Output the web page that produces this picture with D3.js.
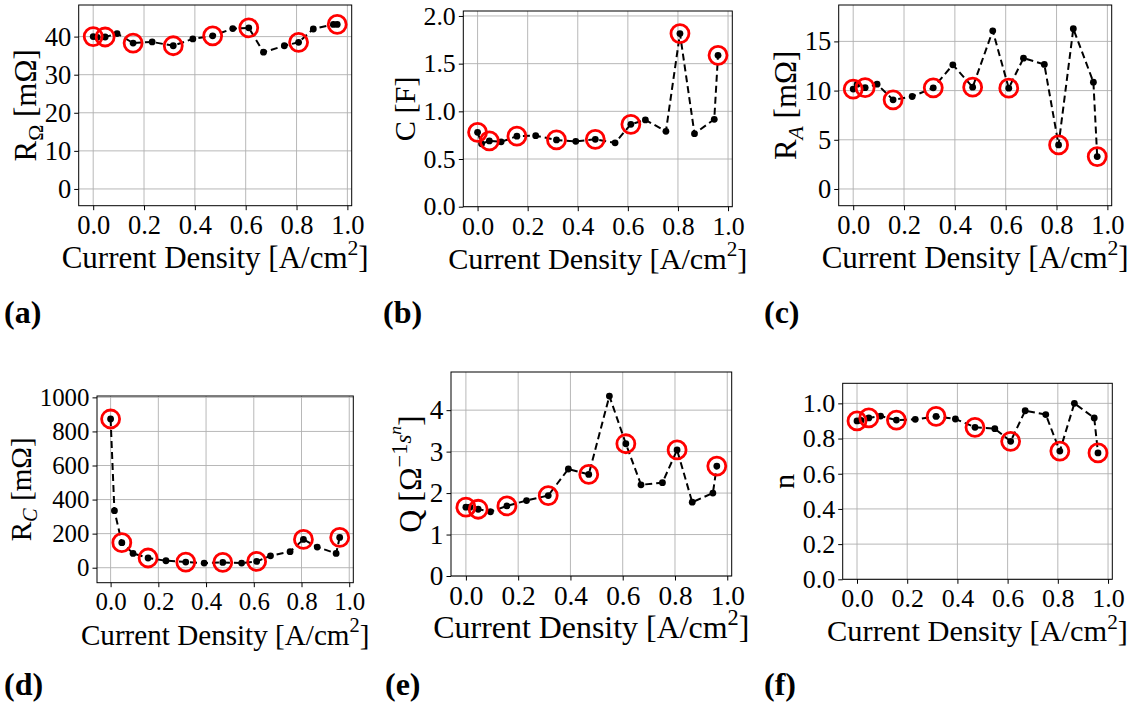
<!DOCTYPE html>
<html>
<head>
<meta charset="utf-8">
<script src="https://cdn.jsdelivr.net/npm/d3@7"></script>
<style>
  html, body { margin: 0; padding: 0; background: #fff; }
  svg { display: block; }
</style>
</head>
<body>
<svg id="fig" width="1131" height="708"></svg>
<script>
// Current density sweep [A/cm^2]
const currentDensity = [0.0, 0.016, 0.047, 0.094, 0.157, 0.232, 0.315, 0.392, 0.47, 0.549, 0.612, 0.67, 0.752, 0.808, 0.866, 0.945, 0.96];
// Operating points marked with red rings
const markedIdx = [0, 2, 4, 6, 8, 10, 13, 16];

// Fitted equivalent-circuit parameters
const rOhmic = [40.0, 39.8, 39.9, 40.8, 38.3, 38.6, 37.6, 39.4, 40.2, 42.1, 42.3, 35.9, 37.6, 38.5, 42.0, 43.2, 43.2];
const capacitance = [0.78, 0.66, 0.69, 0.68, 0.74, 0.745, 0.70, 0.685, 0.706, 0.67, 0.864, 0.91, 0.79, 1.815, 0.766, 0.916, 1.587];
const rAnode = [10.15, 10.65, 10.3, 10.65, 9.06, 9.4, 10.28, 12.62, 10.35, 16.08, 10.25, 13.3, 12.66, 4.48, 16.29, 10.86, 3.29];
const rCathode = [873, 335, 147, 84, 57, 41, 33, 27, 31, 27, 37, 70, 94, 166, 121, 84, 178];
const cpeQ = [1.66, 1.66, 1.61, 1.55, 1.69, 1.82, 1.94, 2.58, 2.45, 4.34, 3.19, 2.2, 2.25, 3.04, 1.78, 2.0, 2.65];
const cpeN = [0.90, 0.903, 0.917, 0.928, 0.905, 0.909, 0.926, 0.911, 0.864, 0.856, 0.784, 0.958, 0.936, 0.729, 1.0, 0.917, 0.718];

// Tick values
const xTicks = [0, 0.2, 0.4, 0.6, 0.8, 1.0];
const ticksROhm = [0, 10, 20, 30, 40];
const ticksC = [0, 0.5, 1.0, 1.5, 2.0];
const ticksRA = [0, 5, 10, 15];
const ticksRC = [0, 200, 400, 600, 800, 1000];
const ticksQ = [0, 1, 2, 3, 4];
const ticksN = [0, 0.2, 0.4, 0.6, 0.8, 1.0];

// Label pieces: text, vertical shift (em, up positive), size factor, italic
const labelROhm = [["R", 0, 1], ["Ω", -0.22, 0.7], [" [mΩ]", 0, 1]];
const labelC = [["C [F]", 0, 1]];
const labelRA = [["R", 0, 1], ["A", -0.22, 0.7, true], [" [mΩ]", 0, 1]];
const labelRC = [["R", 0, 1], ["C", -0.22, 0.7, true], [" [mΩ]", 0, 1]];
const labelQ = [["Q [Ω", 0, 1], ["−1", 0.42, 0.7], ["s", 0.3, 0.72, true], ["n", 0.62, 0.55, true], ["]", 0, 1]];
const labelN = [["n", 0, 1]];
const labelX = [["Current Density [A/cm", 0, 1], ["2", 0.42, 0.7], ["]", 0, 1]];

const panels = [
  { tag: "(a)", y: rOhmic, yTicks: ticksROhm, fmt: d3.format("d"), yDom: [-4.4, 48.3], label: labelROhm,
    box: [78.7, 5, 351.7, 205.7], s: 1.0, tagPos: [4, 323] },
  { tag: "(b)", y: capacitance, yTicks: ticksC, fmt: d3.format(".1f"), yDom: [0, 2.052], label: labelC,
    box: [463.3, 11, 732.3, 206.7], s: 0.975, tagPos: [383, 323] },
  { tag: "(c)", y: rAnode, yTicks: ticksRA, fmt: d3.format("d"), yDom: [-1.7, 18.7], label: labelRA,
    box: [838.7, 5, 1111.7, 205.7], s: 1.0, tagPos: [764, 323] },
  { tag: "(d)", y: rCathode, yTicks: ticksRC, fmt: d3.format("d"), yDom: [-88, 1008], label: labelRC,
    box: [97, 396, 353.3, 582.7], s: 0.94, tagPos: [4, 695] },
  { tag: "(e)", y: cpeQ, yTicks: ticksQ, fmt: d3.format("d"), yDom: [0, 4.92], label: labelQ,
    box: [451, 372, 731.7, 576], s: 1.03, tagPos: [385, 695] },
  { tag: "(f)", y: cpeN, yTicks: ticksN, fmt: d3.format(".1f"), yDom: [0, 1.114], label: labelN,
    box: [842.7, 383.3, 1112.3, 579.3], s: 0.98, tagPos: [764, 695] }
];

const FONT = "Liberation Serif, Times New Roman, serif";
const svg = d3.select("#fig");

function richText(sel, pieces, size) {
  let prev = 0;
  pieces.forEach(([t, shift, f, it]) => {
    const ts = sel.append("tspan")
      .attr("dy", (-(shift - prev) * size).toFixed(2))
      .style("font-size", (size * f).toFixed(2) + "px")
      .text(t);
    if (it) ts.style("font-style", "italic");
    prev = shift;
  });
}

panels.forEach(p => {
  const [x0, y0, x1, y1] = p.box;
  const labelSize = 31 * p.s;
  const tickSize = 26.5 * p.s;

  const x = d3.scaleLinear().domain([-0.057, 1.017]).range([x0, x1]);
  const y = d3.scaleLinear().domain(p.yDom).range([y1, y0]);

  const g = svg.append("g");

  // grid
  g.append("g").selectAll("line").data(xTicks).join("line")
    .attr("x1", d => x(d)).attr("x2", d => x(d)).attr("y1", y0).attr("y2", y1)
    .attr("stroke", "#b0b0b0").attr("stroke-width", 0.9);
  g.append("g").selectAll("line").data(p.yTicks).join("line")
    .attr("x1", x0).attr("x2", x1).attr("y1", d => y(d)).attr("y2", d => y(d))
    .attr("stroke", "#b0b0b0").attr("stroke-width", 0.9);

  // axes
  const xAxis = g.append("g").attr("transform", `translate(0,${y1})`)
    .call(d3.axisBottom(x).tickValues(xTicks).tickFormat(d3.format(".1f")).tickSize(4.5).tickPadding(5));
  const yAxis = g.append("g").attr("transform", `translate(${x0},0)`)
    .call(d3.axisLeft(y).tickValues(p.yTicks).tickFormat(p.fmt).tickSize(4.5).tickPadding(3));
  [xAxis, yAxis].forEach(a => {
    a.attr("font-family", null).attr("font-size", null);
    a.select(".domain").remove();
    a.selectAll(".tick line").attr("stroke", "#000").attr("stroke-width", 1);
    a.selectAll(".tick text")
      .style("font-family", FONT).style("font-size", tickSize + "px").attr("fill", "#000");
  });

  // frame
  g.append("rect").attr("x", x0).attr("y", y0).attr("width", x1 - x0).attr("height", y1 - y0)
    .attr("fill", "none").attr("stroke", "#000").attr("stroke-width", 1);

  // data line, points and marked rings
  const pts = currentDensity.map((d, i) => [d, p.y[i]]);
  g.append("path").datum(pts)
    .attr("d", d3.line().x(d => x(d[0])).y(d => y(d[1])))
    .attr("fill", "none").attr("stroke", "#000").attr("stroke-width", 2)
    .attr("stroke-dasharray", "7,4");
  g.append("g").selectAll("circle").data(pts).join("circle")
    .attr("cx", d => x(d[0])).attr("cy", d => y(d[1])).attr("r", 3.4).attr("fill", "#000");
  g.append("g").selectAll("circle").data(markedIdx.map(i => pts[i])).join("circle")
    .attr("cx", d => x(d[0])).attr("cy", d => y(d[1])).attr("r", 9)
    .attr("fill", "none").attr("stroke", "#ff0000").attr("stroke-width", 2.8);

  // x label
  const xl = g.append("text").attr("x", (x0 + x1) / 2).attr("y", y1 + 62)
    .attr("text-anchor", "middle").style("font-family", FONT).attr("fill", "#000");
  richText(xl, labelX, labelSize);

  // y label placed left of the tick labels
  const bb = yAxis.node().getBBox();
  const lx = x0 + bb.x - 9;
  const yl = g.append("text").attr("transform", `translate(${lx},${(y0 + y1) / 2}) rotate(-90)`)
    .attr("text-anchor", "middle").style("font-family", FONT).attr("fill", "#000");
  richText(yl, p.label, labelSize);

  // panel tag
  svg.append("text").attr("x", p.tagPos[0]).attr("y", p.tagPos[1])
    .style("font-family", FONT).style("font-weight", "bold").style("font-size", "32px")
    .attr("fill", "#000").text(p.tag);
});
</script>
</body>
</html>
